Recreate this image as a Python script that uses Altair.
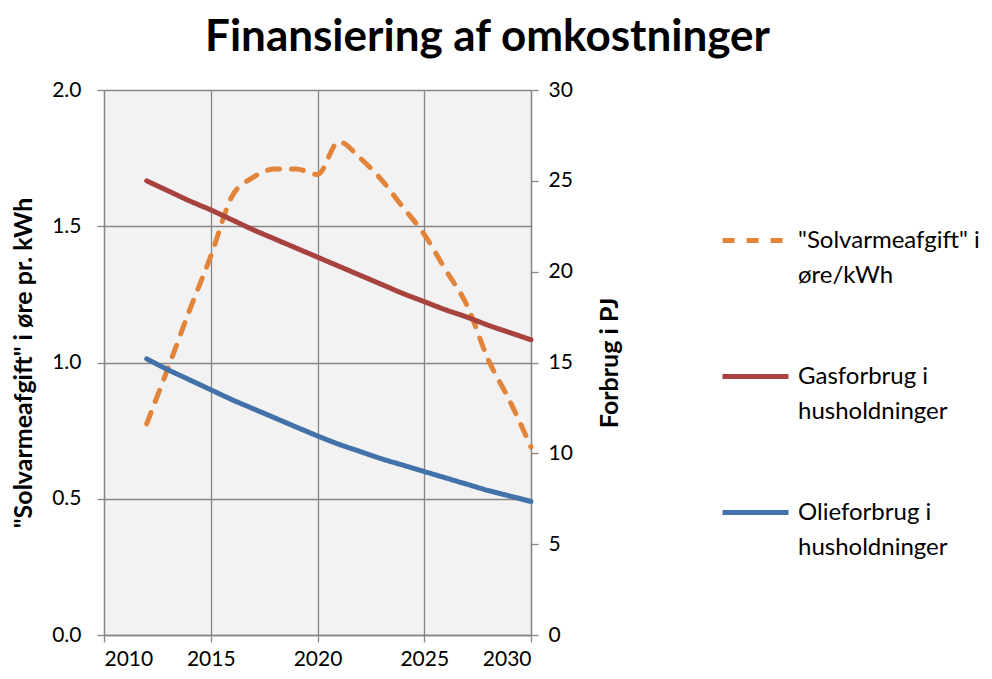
import altair as alt
import pandas as pd

years = [2012, 2013, 2014, 2015, 2016, 2017, 2018, 2019, 2020, 2021,
         2022, 2023, 2024, 2025, 2026, 2027, 2028, 2029, 2030]
solvarme = [0.775, 0.98, 1.19, 1.39, 1.61, 1.68, 1.71, 1.71, 1.69, 1.81,
            1.75, 1.67, 1.57, 1.47, 1.34, 1.21, 1.01, 0.86, 0.69]
gas = [25.0, 24.45, 23.9, 23.4, 22.85, 22.3, 21.8, 21.3, 20.8, 20.3,
       19.8, 19.3, 18.8, 18.35, 17.9, 17.5, 17.05, 16.65, 16.25]
olie = [15.2, 14.6, 14.05, 13.5, 12.95, 12.45, 11.95, 11.45, 10.96, 10.5,
        10.1, 9.7, 9.35, 9.0, 8.65, 8.3, 7.95, 7.65, 7.35]

series_names = ['"Solvarmeafgift" i|øre/kWh',
                'Gasforbrug i|husholdninger',
                'Olieforbrug i|husholdninger']
series_colors = ["#E2853A", "#A8423E", "#4372AA"]
series_dashes = [[12, 12], [1, 0], [1, 0]]

left_ticks = [0, 0.5, 1.0, 1.5, 2.0]
right_ticks = [0, 5, 10, 15, 20, 25, 30]
x_ticks = [2010, 2015, 2020, 2025, 2030]

rows = []
for name, vals in zip(series_names, [solvarme, gas, olie]):
    for yr, v in zip(years, vals):
        rows.append({"year": yr, "series": name, "value": v})
df = pd.DataFrame(rows)

FONT = "Lato"
GRID = "#868686"

legend = alt.Legend(
    title=None, orient="none", legendX=616, legendY=115, direction="vertical",
    symbolType="stroke", symbolSize=4356, symbolStrokeWidth=5,
    labelFontSize=24, labelFont=FONT, labelColor="#000000",
    labelExpr="split(datum.label, '|')", rowPadding=53,
    labelOffset=7, labelLimit=400,
)

color = alt.Color("series:N", scale=alt.Scale(domain=series_names, range=series_colors), legend=legend)
dash = alt.StrokeDash("series:N", scale=alt.Scale(domain=series_names, range=series_dashes), legend=legend)

x = alt.X(
    "year:Q",
    scale=alt.Scale(domain=[2010, 2030], nice=False, zero=False),
    axis=alt.Axis(values=x_ticks, format="d", title=None, grid=True,
                  gridColor=GRID, gridWidth=1.3, domainColor=GRID, domainWidth=1.3,
                  tickColor=GRID, tickWidth=1.3, tickSize=7, labelPadding=6,
                  labelFontSize=21, labelFont=FONT, labelColor="#000000"),
)

left = alt.Chart(df).transform_filter(
    alt.FieldEqualPredicate(field="series", equal=series_names[0])
).mark_line(strokeWidth=5, strokeCap="round", interpolate="monotone").encode(
    x=x,
    y=alt.Y("value:Q", scale=alt.Scale(domain=[0, 2]),
            axis=alt.Axis(orient="left", values=left_ticks, format=".1f",
                          title='"Solvarmeafgift" i øre pr. kWh',
                          titleFontSize=25, titleFont=FONT, titleFontWeight="bold",
                          titleColor="#000000", titlePadding=15,
                          grid=True, gridColor=GRID, gridWidth=1.3,
                          domainColor=GRID, domainWidth=1.3, tickColor=GRID,
                          tickWidth=1.3, tickSize=7, labelPadding=16,
                          labelFontSize=21, labelFont=FONT, labelColor="#000000")),
    color=color,
    strokeDash=dash,
)

right = alt.Chart(df).transform_filter(
    alt.FieldOneOfPredicate(field="series", oneOf=series_names[1:])
).mark_line(strokeWidth=5, strokeCap="round", interpolate="monotone").encode(
    x=x,
    y=alt.Y("value:Q", scale=alt.Scale(domain=[0, 30]),
            axis=alt.Axis(orient="right", values=right_ticks, format="d",
                          title="Forbrug i PJ", titleAngle=270,
                          titleFontSize=25, titleFont=FONT, titleFontWeight="bold",
                          titleColor="#000000", titlePadding=50,
                          grid=False, domainColor=GRID, domainWidth=1.3,
                          tickColor=GRID, tickWidth=1.3, tickSize=7, labelPadding=10,
                          labelFontSize=21, labelFont=FONT, labelColor="#000000")),
    color=color,
    strokeDash=dash,
)

chart = alt.layer(left, right).resolve_scale(y="independent").properties(
    width=427, height=545,
    autosize=alt.AutoSizeParams(type="none"),
    padding={"left": 96, "top": 82, "right": 453, "bottom": 36},
    title=alt.TitleParams("Finansiering af omkostninger", fontSize=44, font=FONT,
                          fontWeight="bold", color="#000000", anchor="middle",
                          dx=170, offset=19),
).configure(
    style={"guide-label": {"lineHeight": 35}}
).configure_view(
    fill="#F2F2F2", strokeWidth=0
)

chart.save("out.html", embed_options={"renderer": "svg", "actions": False})
